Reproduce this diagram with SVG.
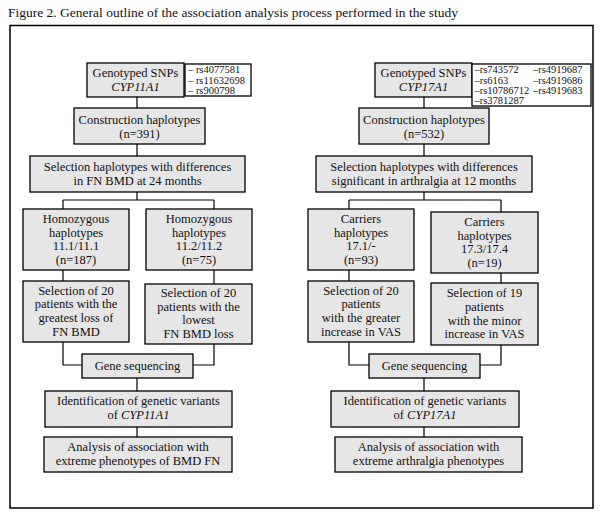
<svg xmlns="http://www.w3.org/2000/svg" width="604" height="522" viewBox="0 0 604 522">
<style>
text{font-family:"Liberation Serif","Times New Roman",serif;font-size:12.5px;fill:#111;text-anchor:middle}
.t{text-anchor:start}
.s{font-size:10.5px;text-anchor:start}
.i{font-style:italic}
.b{fill:#e6e6e6;stroke:#000;stroke-width:1.3}
.w{fill:#fff;stroke:#000;stroke-width:1.3}
.c{fill:none;stroke:#000;stroke-width:1.2}
</style>
<rect width="604" height="522" fill="#fff"/>
<text class="t" x="8" y="17" textLength="450" lengthAdjust="spacingAndGlyphs">Figure 2. General outline of the association analysis process performed in the study</text>
<rect x="10" y="25.5" width="583" height="482.5" fill="none" stroke="#000" stroke-width="1.5"/>
<g id="connectors">
<path class="c" d="M137 97V108M137 144V156M137 192V200M63 200H214M63 200V209M214 200V209M63 270V281M214 270V284M63 342V365H82M214 344V365H193M137 378V391M137 427V437"/>
<path class="c" d="M424 97V108M424 144V156M424 192V200M349 200H501M349 200V209M501 200V212M349 270V281M501 273V283M349 342V365H369M501 345V365H480M424 378V391M424 427V437"/>
</g>
<g id="geno-left"><rect class="b" x="87" y="63" width="97" height="34"/><text x="135.5" y="77">Genotyped SNPs</text><text class="i" x="135.5" y="91">CYP11A1</text></g>
<g id="snps-left"><rect class="w" x="185" y="64" width="66" height="32"/><text class="s" x="188" y="73">– rs4077581</text><text class="s" x="188" y="83.5">– rs11632698</text><text class="s" x="188" y="94">– rs900798</text></g>
<g id="constr-left"><rect class="b" x="74" y="108" width="131" height="36"/><text x="139.5" y="124">Construction haplotypes</text><text x="139.5" y="138">(n=391)</text></g>
<g id="sel-left"><rect class="b" x="30" y="156" width="215" height="36"/><text x="137.5" y="171">Selection haplotypes with differences</text><text x="137.5" y="185">in FN BMD at 24 months</text></g>
<g id="homo1"><rect class="b" x="23" y="209" width="106" height="61"/><text x="76" y="223">Homozygous</text><text x="76" y="236.5">haplotypes</text><text x="76" y="250">11.1/11.1</text><text x="76" y="263.5">(n=187)</text></g>
<g id="homo2"><rect class="b" x="146" y="209" width="106" height="61"/><text x="199" y="223">Homozygous</text><text x="199" y="236.5">haplotypes</text><text x="199" y="250">11.2/11.2</text><text x="199" y="263.5">(n=75)</text></g>
<g id="sel20a"><rect class="b" x="23" y="281" width="106" height="61"/><text x="76" y="294.5">Selection of 20</text><text x="76" y="308">patients with the</text><text x="76" y="322">greatest loss of</text><text x="76" y="336">FN BMD</text></g>
<g id="sel20b"><rect class="b" x="145" y="284" width="107" height="60"/><text x="198.5" y="297">Selection of 20</text><text x="198.5" y="311">patients with the</text><text x="198.5" y="324">lowest</text><text x="198.5" y="337.5">FN BMD loss</text></g>
<g id="geneseq-left"><rect class="b" x="82" y="354" width="111" height="24"/><text x="137.5" y="370">Gene sequencing</text></g>
<g id="ident-left"><rect class="b" x="45" y="391" width="187" height="36"/><text x="138.5" y="405">Identification of genetic variants</text><text x="138.5" y="419">of <tspan class="i">CYP11A1</tspan></text></g>
<g id="anal-left"><rect class="b" x="44" y="437" width="188" height="35"/><text x="138" y="451">Analysis of association with</text><text x="138" y="465">extreme phenotypes of BMD FN</text></g>
<g id="geno-right"><rect class="b" x="375" y="63" width="97" height="34"/><text x="423.5" y="77">Genotyped SNPs</text><text class="i" x="423.5" y="91">CYP17A1</text></g>
<g id="snps-right"><rect class="w" x="472" y="64" width="119" height="42"/><text class="s" x="474.5" y="73">–rs743572</text><text class="s" x="474.5" y="83.5">–rs6163</text><text class="s" x="474.5" y="94">–rs10786712</text><text class="s" x="474.5" y="104">–rs3781287</text><text class="s" x="533" y="73">–rs4919687</text><text class="s" x="533" y="83.5">–rs4919686</text><text class="s" x="533" y="94">–rs4919683</text></g>
<g id="constr-right"><rect class="b" x="359" y="108" width="130" height="36"/><text x="424" y="124">Construction haplotypes</text><text x="424" y="138">(n=532)</text></g>
<g id="sel-right"><rect class="b" x="316" y="156" width="216" height="36"/><text x="424" y="171">Selection haplotypes with differences</text><text x="424" y="185">significant in arthralgia at 12 months</text></g>
<g id="carr1"><rect class="b" x="308" y="209" width="106" height="61"/><text x="361" y="223">Carriers</text><text x="361" y="236.5">haplotypes</text><text x="361" y="250">17.1/-</text><text x="361" y="263.5">(n=93)</text></g>
<g id="carr2"><rect class="b" x="431" y="212" width="107" height="61"/><text x="484.5" y="226">Carriers</text><text x="484.5" y="239.5">haplotypes</text><text x="484.5" y="253">17.3/17.4</text><text x="484.5" y="266.5">(n=19)</text></g>
<g id="sel20c"><rect class="b" x="308" y="281" width="106" height="61"/><text x="361" y="294.5">Selection of 20</text><text x="361" y="308">patients</text><text x="361" y="322">with the greater</text><text x="361" y="336">increase in VAS</text></g>
<g id="sel19"><rect class="b" x="431" y="283" width="107" height="62"/><text x="484.5" y="297">Selection of 19</text><text x="484.5" y="311">patients</text><text x="484.5" y="324.5">with the minor</text><text x="484.5" y="338">increase in VAS</text></g>
<g id="geneseq-right"><rect class="b" x="369" y="354" width="111" height="24"/><text x="424.5" y="370">Gene sequencing</text></g>
<g id="ident-right"><rect class="b" x="331" y="391" width="188" height="36"/><text x="425" y="405">Identification of genetic variants</text><text x="425" y="419">of <tspan class="i">CYP17A1</tspan></text></g>
<g id="anal-right"><rect class="b" x="335" y="437" width="187" height="35"/><text x="428.5" y="451">Analysis of association with</text><text x="428.5" y="465">extreme arthralgia phenotypes</text></g>
</svg>
